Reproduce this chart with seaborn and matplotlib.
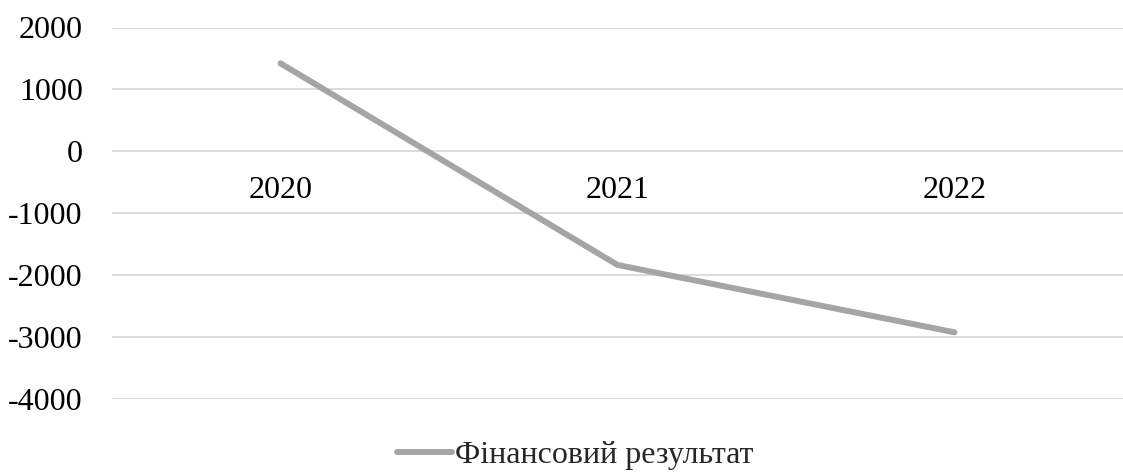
import matplotlib
matplotlib.use("Agg")
import matplotlib.pyplot as plt
import seaborn as sns
import pandas as pd

years = ["2020", "2021", "2022"]
result = [1420, -1840, -2930]
series_name = "Фінансовий результат"
y_ticks = [-4000, -3000, -2000, -1000, 0, 1000, 2000]

sns.set_style("white")
plt.rcParams["font.family"] = ["Liberation Serif", "DejaVu Serif"]

FS = 23
df = pd.DataFrame({"year": years, "value": result})

fig = plt.figure(figsize=(11.23, 4.74), dpi=100)
ax = fig.add_axes([112 / 1123, 1 - 398.5 / 474, 1 - 112 / 1123, (398.5 - 27.5) / 474])

sns.lineplot(data=df, x="year", y="value", ax=ax, color="#a5a5a5",
             linewidth=4.3, solid_capstyle="round", label=series_name, sort=False)

ax.set_xlim(-0.5, len(years) - 0.5)
ax.set_ylim(y_ticks[0], y_ticks[-1])
ax.set_yticks(y_ticks)
ax.set_yticklabels([str(t) for t in y_ticks])
ax.yaxis.grid(True, color="#d9d9d9", linewidth=1.3)
ax.set_axisbelow(True)
for s in ax.spines.values():
    s.set_visible(False)
ax.spines["bottom"].set_position(("data", 0))
ax.tick_params(axis="both", length=0, labelsize=FS, colors="black")
ax.tick_params(axis="x", pad=18)
ax.tick_params(axis="y", pad=21)
ax.set_xlabel("")
ax.set_ylabel("")

ax.get_legend().remove()
handles, labels = ax.get_legend_handles_labels()
fig.legend(handles, labels, loc="center", bbox_to_anchor=(575 / 1123, 1 - 455 / 474),
           frameon=False, fontsize=FS, handlelength=1.75, handletextpad=0.08)

fig.savefig("out.png", dpi=100)
